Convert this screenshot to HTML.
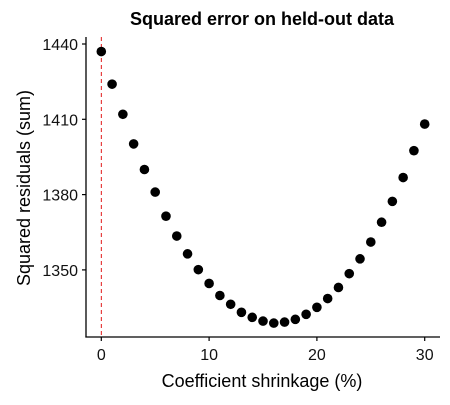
<!DOCTYPE html>
<html><head><meta charset="utf-8"><style>
html,body{margin:0;padding:0;background:#fff}
svg text{font-family:"Liberation Sans",Arial,sans-serif}
</style></head><body>
<svg width="450" height="400" id="c">
<text x="262" y="25" text-anchor="middle" font-size="18" font-weight="bold">Squared error on held-out data</text>
<text x="262" y="387" text-anchor="middle" font-size="18">Coefficient shrinkage (%)</text>
<text transform="translate(30,188) rotate(-90)" text-anchor="middle" font-size="18">Squared residuals (sum)</text>
<g id="axes"></g>
<g id="marks"></g>
</svg>
<script>
const xs=[0,1,2,3,4,5,6,7,8,9,10,11,12,13,14,15,16,17,18,19,20,21,22,23,24,25,26,27,28,29,30];
const ys=[1437,1424,1412,1400.2,1390,1381,1371.4,1363.5,1356.4,1350.1,1344.6,1339.8,1336.3,1333.1,1331.1,1329.6,1328.8,1329.2,1330.3,1332.3,1335.1,1338.6,1343,1348.5,1354.4,1361.1,1369,1377.3,1386.8,1397.5,1408.1];
const xTicks=[0,10,20,30];
const yTicks=[1350,1380,1410,1440];
const X=v=>101.3+v*10.78;
const Y=v=>44+(1440-v)*2.51;
const NS="http://www.w3.org/2000/svg";
const ax=document.getElementById('axes'),mk=document.getElementById('marks');
function mkEl(t,a,p){const e=document.createElementNS(NS,t);for(const k in a)e.setAttribute(k,a[k]);p.appendChild(e);return e;}
let e=mkEl('line',{x1:86,y1:37,x2:86,y2:337.5,stroke:'#000','stroke-width':1.3},ax);


e=mkEl('line',{x1:85.4,y1:337,x2:440,y2:337,stroke:'#000','stroke-width':1.3},ax);


e=mkEl('line',{x1:X(0),y1:37,x2:X(0),y2:337,stroke:'#d00','stroke-width':0.9,'stroke-dasharray':'4,3'},ax);


xTicks.forEach(t=>{
 const l=mkEl('line',{x1:X(t),y1:337,x2:X(t),y2:341,stroke:'#000','stroke-width':1.2},ax);
 
 
 const tx=mkEl('text',{x:X(t),y:360,'text-anchor':'middle','font-size':16,fill:'#111'},ax);tx.textContent=t;
 
 
});
yTicks.forEach(t=>{
 const l=mkEl('line',{x1:82,y1:Y(t),x2:86,y2:Y(t),stroke:'#000','stroke-width':1.2},ax);
 
 
 const tx=mkEl('text',{x:78,y:Y(t)+6,'text-anchor':'end','font-size':16,fill:'#111'},ax);tx.textContent=t;
 
 
});
xs.forEach((x,i)=>{
 const c=mkEl('circle',{cx:X(x),cy:Y(ys[i]),r:4.8,fill:'#000'},mk);
 
 
});
</script>
</body></html>
